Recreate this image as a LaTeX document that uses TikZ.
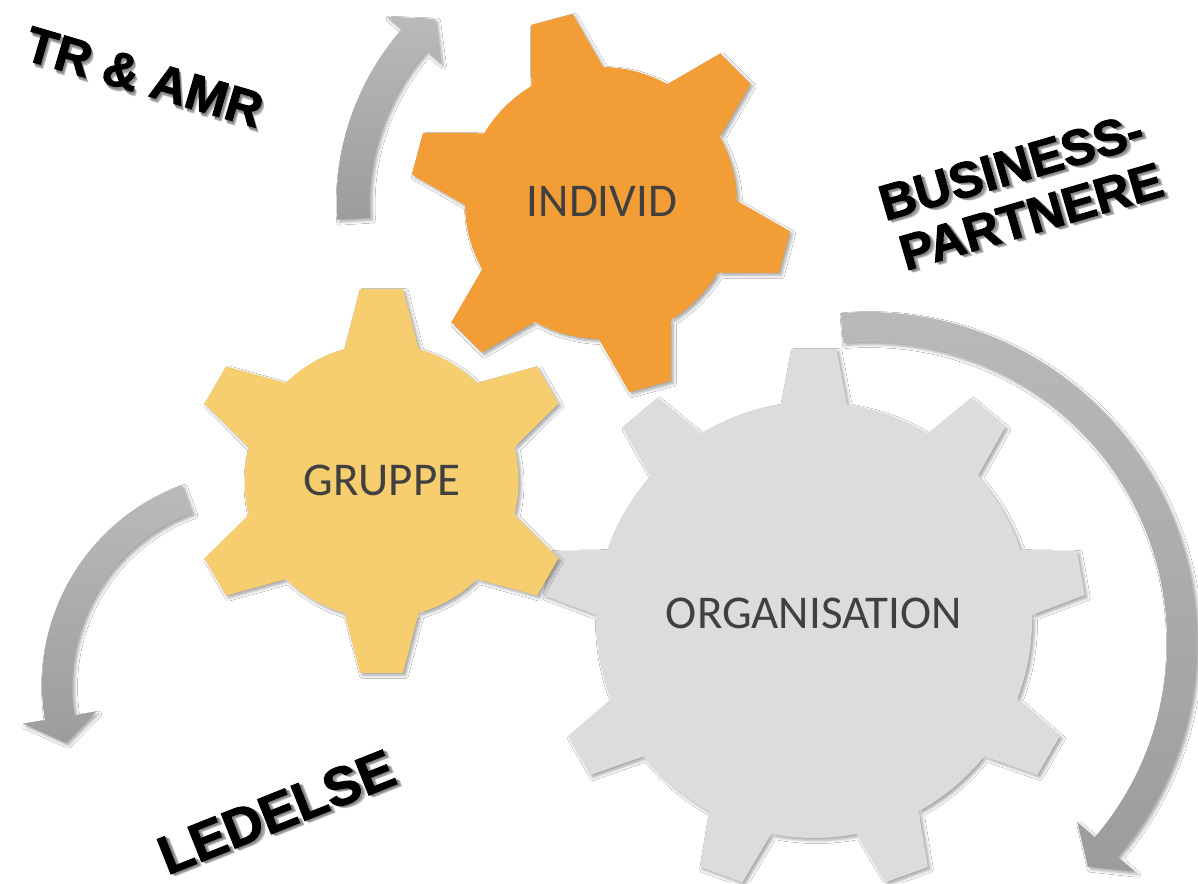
\documentclass[tikz,border=0pt]{standalone}
\usepackage{fontspec}
\setmainfont{Carlito}
\newfontfamily\heavyfont{Liberation Sans Bold}[FakeBold=2]
\usetikzlibrary{shadows.blur}

\definecolor{gearorange}{HTML}{F29D35}
\definecolor{gearyellow}{HTML}{F6CD6F}
\definecolor{geargray}{HTML}{DCDCDC}
\definecolor{labelgray}{HTML}{404040}
\definecolor{arrowtop}{HTML}{BABABA}
\definecolor{arrowbot}{HTML}{9C9C9C}

\tikzset{
  softshadow/.style={blur shadow={shadow xshift=2.5pt, shadow yshift=-2.5pt, shadow blur radius=3pt, shadow opacity=35}},
  glabel/.style={font=\fontsize{47}{56}\selectfont, text=labelgray, inner sep=0pt},
  biglabel/.style={font=\heavyfont\fontsize{#1}{#1}\selectfont, text=black, inner sep=0pt, anchor=base},
  bigshade/.style={font=\heavyfont\fontsize{#1}{#1}\selectfont, text=black, opacity=0.16, inner sep=0pt, anchor=base},
  curvearrow/.style={top color=arrowtop, bottom color=arrowbot, softshadow},
}

% #1 centre, #2 body radius, #3 tip radius, #4 tooth half-width at base, #5 tooth half-width at tip, #6 tooth angles, #7 colour
\newcommand{\mygear}[7]{%
  \path[fill=#7, softshadow, shift={(#1)}] (0,0) circle[radius=#2]
  \foreach \a in {#6}{
    ({\a-atan(#4/(#2-16))}:{(#2-16)/cos(atan(#4/(#2-16)))})
    -- ({\a-atan(#5/#3)}:{#3/cos(atan(#5/#3))})
    -- ({\a+atan(#5/#3)}:{#3/cos(atan(#5/#3))})
    -- ({\a+atan(#4/(#2-16))}:{(#2-16)/cos(atan(#4/(#2-16)))})
    -- cycle
  };
}

% #1 centre, #2 radius, #3 half width, #4 start angle, #5 shaft end angle, #6 tip angle, #7 head half width
\newcommand{\myarrow}[7]{%
  \path[curvearrow, shift={(#1)}]
    (#4:{#2+#3}) arc[start angle=#4, end angle=#5, radius={#2+#3}]
    -- (#5:{#2+#7}) -- (#6:#2) -- (#5:{#2-#7}) -- (#5:{#2-#3})
    arc[start angle=#5, end angle=#4, radius={#2-#3}] -- cycle;
}

% shadowed bold label: #1 name, #2 size, #3 angle, #4 position, #5 text
\newcommand{\shadowlabel}[5]{%
  \foreach \s in {1.5,2.5,3.5}{
    \node[bigshade=#2, rotate=#3, xshift=\s pt, yshift=-\s pt] at #4 {#5};
  }
  \node[biglabel=#2, rotate=#3] (#1) at #4 {#5};
}

\begin{document}
\begin{tikzpicture}[x=1pt,y=1pt]
  \useasboundingbox[fill=white] (0,0) rectangle (1198,-883);

  % centres
  \coordinate (oc) at (601,-203);
  \coordinate (gc) at (381.5,-481);
  \coordinate (rc) at (814,-620);
  \coordinate (ac1) at (601,-203);
  \coordinate (ac2) at (255,-685);
  \coordinate (ac3) at (867,-642);

  % curved arrows
  \myarrow{ac1}{248}{16.5}{183.6}{139}{132}{36}
  \myarrow{ac2}{198}{15}{110}{189.5}{197}{37}
  \myarrow{ac3}{315}{15}{94.6}{-40.6}{-45.5}{38}

  % gears
  \mygear{rc}{218}{271}{35.5}{22.5}{90,130,170,210,250,290,330,10,50}{geargray}
  \mygear{oc}{136}{190}{40}{21.5}{45,105,165,225,285,345}{gearorange}
  \mygear{gc}{137}{192}{40}{21.5}{30,90,150,210,270,330}{gearyellow}

  % gear labels
  \node[glabel] (individ) at (602,-201) {INDIVID};
  \node[glabel] (gruppe) at (382,-480) {GRUPPE};
  \node[glabel] (organisation) at (814,-613.5) {ORGANISATION};

  % outer labels
  \shadowlabel{tr}{50}{-16.4}{(139.5,-93.5)}{TR \& AMR}
  \shadowlabel{led}{54}{21.7}{(283.3,-829.2)}{LEDELSE}
  \shadowlabel{bus1}{50}{16.2}{(1016,-183)}{BUSINESS-}
  \shadowlabel{bus2}{50}{16.2}{(1036,-233)}{PARTNERE}
\end{tikzpicture}
\end{document}
